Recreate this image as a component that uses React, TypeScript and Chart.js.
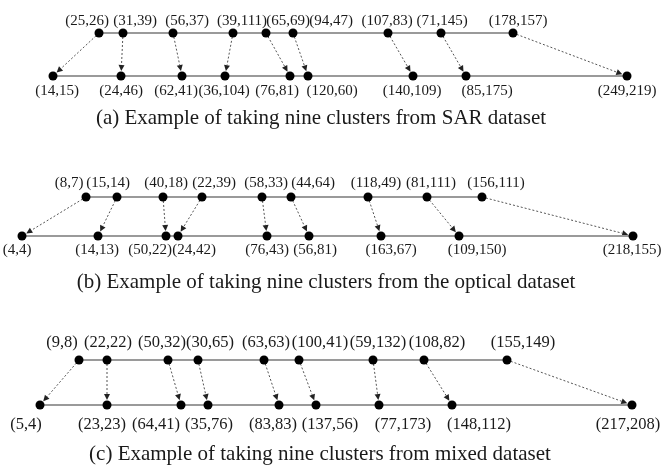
import React, { useEffect, useRef } from "react";
import { Chart, registerables } from "chart.js";

Chart.register(...registerables);

// ---------- Data ----------
// Panel (a) SAR
const A_TOP_LABELS = ["(25,26)", "(31,39)", "(56,37)", "(39,111)", "(65,69)", "(94,47)", "(107,83)", "(71,145)", "(178,157)"];
const A_BOT_LABELS = ["(14,15)", "(24,46)", "(62,41)", "(36,104)", "(76,81)", "(120,60)", "(140,109)", "(85,175)", "(249,219)"];
const A_TOP_POS = [99, 123, 173, 233, 266, 293, 388, 441, 513];
const A_BOT_POS = [53, 121, 182, 225, 290, 308, 413, 466, 627];
const A_TOP_LABEL_POS = [87, 135, 187, 242, 288, 331, 387, 442, 518];
const A_BOT_LABEL_POS = [57, 121, 176, 224, 277, 332, 412, 487, 627];
const A_CAPTION = "(a) Example of taking nine clusters from SAR dataset";

// Panel (b) optical
const B_TOP_LABELS = ["(8,7)", "(15,14)", "(40,18)", "(22,39)", "(58,33)", "(44,64)", "(118,49)", "(81,111)", "(156,111)"];
const B_BOT_LABELS = ["(4,4)", "(14,13)", "(50,22)", "(24,42)", "(76,43)", "(56,81)", "(163,67)", "(109,150)", "(218,155)"];
const B_TOP_POS = [86, 117, 163, 202, 262, 291, 368, 427, 482];
const B_BOT_POS = [22, 98, 166, 178, 267, 309, 381, 459, 633];
const B_TOP_LABEL_POS = [69, 108, 166, 214, 266, 313, 376, 431, 496];
const B_BOT_LABEL_POS = [17, 97, 150, 194, 267, 315, 391, 477, 632];
const B_CAPTION = "(b) Example of taking nine clusters from the optical dataset";

// Panel (c) mixed
const C_TOP_LABELS = ["(9,8)", "(22,22)", "(50,32)", "(30,65)", "(63,63)", "(100,41)", "(59,132)", "(108,82)", "(155,149)"];
const C_BOT_LABELS = ["(5,4)", "(23,23)", "(64,41)", "(35,76)", "(83,83)", "(137,56)", "(77,173)", "(148,112)", "(217,208)"];
const C_TOP_POS = [79, 107, 168, 198, 264, 299, 373, 424, 507];
const C_BOT_POS = [40, 107, 181, 208, 279, 316, 379, 452, 632];
const C_TOP_LABEL_POS = [62, 108, 162, 210, 266, 320, 378, 437, 523];
const C_BOT_LABEL_POS = [26, 102, 156, 209, 273, 330, 403, 479, 628];
const C_CAPTION = "(c) Example of taking nine clusters from mixed dataset";

// Row levels (vertical axis values) per panel: top line, bottom line, top labels, bottom labels, caption
const A_ROWS = [33, 76, 21, 91, 118];
const B_ROWS = [197, 236, 183, 250, 282];
const C_ROWS = [360, 405, 343, 425, 454];
const CAPTION_POS = [321, 326, 320];

const W = 663;
const H = 466;
const LABEL_FONT_PX = [15, 15, 16.5];
const CAPTION_FONT_PX = 21;

type Panel = {
  topPos: number[];
  botPos: number[];
  topLabels: string[];
  botLabels: string[];
  topLabelPos: number[];
  botLabelPos: number[];
  rows: number[];
  caption: string;
  captionPos: number;
  labelPx: number;
};

const PANELS: Panel[] = [
  { topPos: A_TOP_POS, botPos: A_BOT_POS, topLabels: A_TOP_LABELS, botLabels: A_BOT_LABELS, topLabelPos: A_TOP_LABEL_POS, botLabelPos: A_BOT_LABEL_POS, rows: A_ROWS, caption: A_CAPTION, captionPos: CAPTION_POS[0], labelPx: LABEL_FONT_PX[0] },
  { topPos: B_TOP_POS, botPos: B_BOT_POS, topLabels: B_TOP_LABELS, botLabels: B_BOT_LABELS, topLabelPos: B_TOP_LABEL_POS, botLabelPos: B_BOT_LABEL_POS, rows: B_ROWS, caption: B_CAPTION, captionPos: CAPTION_POS[1], labelPx: LABEL_FONT_PX[1] },
  { topPos: C_TOP_POS, botPos: C_BOT_POS, topLabels: C_TOP_LABELS, botLabels: C_BOT_LABELS, topLabelPos: C_TOP_LABEL_POS, botLabelPos: C_BOT_LABEL_POS, rows: C_ROWS, caption: C_CAPTION, captionPos: CAPTION_POS[2], labelPx: LABEL_FONT_PX[2] },
];

const POINT_R = 4.5;

const overlayPlugin = {
  id: "overlay",
  beforeDatasetsDraw(chart: any) {
    const ctx = chart.ctx as CanvasRenderingContext2D;
    const xs = chart.scales.x;
    const ys = chart.scales.y;
    ctx.save();
    PANELS.forEach((p) => {
      for (let i = 0; i < p.topPos.length; i++) {
        const x1 = xs.getPixelForValue(p.topPos[i]);
        const y1 = ys.getPixelForValue(p.rows[0]);
        const x2 = xs.getPixelForValue(p.botPos[i]);
        const y2 = ys.getPixelForValue(p.rows[1]);
        const dx = x2 - x1;
        const dy = y2 - y1;
        const len = Math.sqrt(dx * dx + dy * dy);
        const ux = dx / len;
        const uy = dy / len;
        const tipX = x2 - ux * (POINT_R + 0.5);
        const tipY = y2 - uy * (POINT_R + 0.5);
        const headLen = 6;
        const headW = 3;
        const baseX = tipX - ux * headLen;
        const baseY = tipY - uy * headLen;
        ctx.strokeStyle = "#555";
        ctx.lineWidth = 1;
        ctx.setLineDash([2, 2]);
        ctx.beginPath();
        ctx.moveTo(x1, y1);
        ctx.lineTo(baseX, baseY);
        ctx.stroke();
        ctx.setLineDash([]);
        ctx.fillStyle = "#222";
        ctx.beginPath();
        ctx.moveTo(tipX, tipY);
        ctx.lineTo(baseX - uy * headW, baseY + ux * headW);
        ctx.lineTo(baseX + uy * headW, baseY - ux * headW);
        ctx.closePath();
        ctx.fill();
      }
    });
    ctx.restore();
  },
  afterDatasetsDraw(chart: any) {
    const ctx = chart.ctx as CanvasRenderingContext2D;
    const xs = chart.scales.x;
    const ys = chart.scales.y;
    ctx.save();
    ctx.fillStyle = "#1a1a1a";
    ctx.textAlign = "center";
    ctx.textBaseline = "middle";
    PANELS.forEach((p) => {
      ctx.font = `${p.labelPx}px "Liberation Serif", "Times New Roman", serif`;
      p.topLabels.forEach((t, i) => {
        ctx.fillText(t, xs.getPixelForValue(p.topLabelPos[i]), ys.getPixelForValue(p.rows[2]));
      });
      p.botLabels.forEach((t, i) => {
        ctx.fillText(t, xs.getPixelForValue(p.botLabelPos[i]), ys.getPixelForValue(p.rows[3]));
      });
      ctx.font = `${CAPTION_FONT_PX}px "Liberation Serif", "Times New Roman", serif`;
      ctx.fillText(p.caption, xs.getPixelForValue(p.captionPos), ys.getPixelForValue(p.rows[4]));
    });
    ctx.restore();
  },
};

export default function App() {
  const ref = useRef<HTMLCanvasElement | null>(null);
  useEffect(() => {
    if (!ref.current) return;
    const datasets: any[] = [];
    PANELS.forEach((p) => {
      datasets.push({
        data: p.topPos.map((v) => ({ x: v, y: p.rows[0] })),
        showLine: true,
        borderColor: "#9a9a9a",
        borderWidth: 1.8,
        pointRadius: POINT_R,
        pointBackgroundColor: "#000",
        pointBorderWidth: 0,
        clip: false,
      });
      datasets.push({
        data: p.botPos.map((v) => ({ x: v, y: p.rows[1] })),
        showLine: true,
        borderColor: "#9a9a9a",
        borderWidth: 1.8,
        pointRadius: POINT_R,
        pointBackgroundColor: "#000",
        pointBorderWidth: 0,
        clip: false,
      });
    });
    const chart = new Chart(ref.current, {
      type: "scatter",
      data: { datasets },
      options: {
        responsive: false,
        animation: false,
        layout: { padding: 0, autoPadding: false },
        plugins: { legend: { display: false }, tooltip: { enabled: false } },
        scales: {
          x: { type: "linear", min: 0, max: W, display: false },
          y: { type: "linear", min: 0, max: H, reverse: true, display: false },
        },
      },
      plugins: [overlayPlugin],
    });
    return () => chart.destroy();
  }, []);
  return (
    <div style={{ position: "absolute", left: 0, top: 0, width: W, height: H, background: "#fff" }}>
      <canvas ref={ref} width={W} height={H} style={{ display: "block" }} />
    </div>
  );
}
